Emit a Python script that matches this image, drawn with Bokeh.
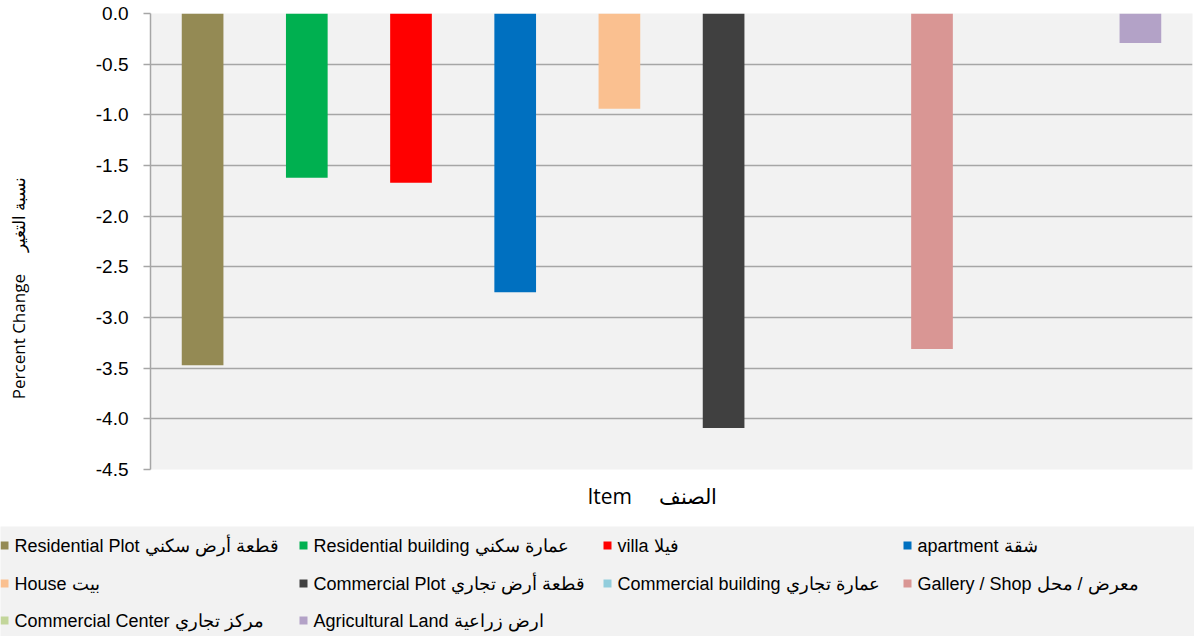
from bokeh.plotting import figure
from bokeh.models import ColumnDataSource, FixedTicker, NumeralTickFormatter, Range1d, FactorRange, Title
from bokeh.core.properties import value
from bokeh.embed import file_html
from bokeh.resources import INLINE

# ---------------- data ----------------
categories = ["Residential  Plot", "Residential  building", "villa", "apartment", "House",
              "Commercial  Plot", "Commercial  building", "Gallery  /  Shop",
              "Commercial  Center", "Agricultural  Land"]
categories_ar = ["قطعة أرض سكني", "عمارة سكني", "فيلا", "شقة", "بيت",
                 "قطعة أرض تجاري", "عمارة تجاري", "معرض / محل", "مركز تجاري", "ارض زراعية"]
pct_change = [-3.47, -1.62, -1.67, -2.75, -0.94, -4.09, 0.0, -3.31, 0.0, -0.29]
colors = ["#948a54", "#00b050", "#ff0000", "#0070c0", "#fac090",
          "#404040", "#92cddc", "#d99694", "#c3d69b", "#b3a2c7"]
y_ticks = [0.0, -0.5, -1.0, -1.5, -2.0, -2.5, -3.0, -3.5, -4.0, -4.5]

NB = "\u00a0"
y_label = "Percent Change" + NB * 5 + "نسبة التغير" + NB * 21
x_label = "Item" + NB * 5 + "الصنف" + NB * 7

# ---------------- main chart ----------------
W = 1194
p = figure(width=W, height=526,
           x_range=FactorRange(factors=categories),
           y_range=Range1d(-4.5, 0.0),
           output_backend="svg", toolbar_location=None,
           min_border_left=150, min_border_right=2, min_border_top=13, min_border_bottom=57)
p.background_fill_color = "#f2f2f2"
p.border_fill_color = "white"
p.outline_line_color = None

src = ColumnDataSource(dict(cat=categories, val=pct_change, color=colors))
p.vbar(x="cat", top=0.0, bottom="val", width=0.4, source=src,
       fill_color="color", line_color=None)

p.xaxis.visible = False
p.xgrid.grid_line_color = None
p.ygrid.grid_line_color = "#a6a6a6"
p.ygrid.grid_line_width = 1.5

ya = p.yaxis[0]
ya.ticker = FixedTicker(ticks=y_ticks)
ya.formatter = NumeralTickFormatter(format="0.0")
ya.axis_line_color = "#a6a6a6"
ya.axis_line_width = 1.5
ya.major_tick_line_color = "#a6a6a6"
ya.major_tick_line_width = 1.5
ya.major_tick_out = 7
ya.major_tick_in = 0
ya.minor_tick_line_color = None
ya.major_label_standoff = 15
ya.major_label_text_font = "Liberation Sans"
ya.major_label_text_font_size = "19px"
ya.major_label_text_color = "#000000"
ya.axis_label = y_label
ya.axis_label_text_font = "Open Sans"
ya.axis_label_text_font_size = "17px"
ya.axis_label_text_font_style = "normal"
ya.axis_label_text_color = "#000000"
ya.axis_label_standoff = 63

t = Title(text=x_label, align="center", text_font="Open Sans", text_font_size="21px",
          text_font_style="normal", text_color="#000000", standoff=21)
p.add_layout(t, "below")

# ---------------- legend band ----------------
LH = 110
lg = figure(width=W, height=LH, x_range=Range1d(0, W), y_range=Range1d(LH, 0),
            output_backend="svg", toolbar_location=None, min_border=0,
            x_axis_type=None, y_axis_type=None)
lg.background_fill_color = "#f2f2f2"
lg.border_fill_color = "#f2f2f2"
lg.outline_line_color = None
lg.xgrid.visible = False
lg.ygrid.visible = False

col_left = [0, 299, 603, 903]
row_y = [19, 57, 94]
sq_x, txt_x, ys, labels = [], [], [], []
for i, (en, ar) in enumerate(zip(categories, categories_ar)):
    c, r = i % 4, i // 4
    sq_x.append(col_left[c] + 4)
    txt_x.append(col_left[c] + 14)
    ys.append(row_y[r])
    labels.append(en + " " + ar)

lsrc = ColumnDataSource(dict(sx=sq_x, tx=txt_x, y=ys, label=labels, color=colors))
lg.scatter(x="sx", y="y", marker="square", size=8, fill_color="color", line_color=None, source=lsrc)
lg.text(x="tx", y="y", text="label", source=lsrc, text_baseline="middle", text_align="left",
        text_font=value("Liberation Sans"), text_font_size="18px", text_color="#000000")

open("out.html", "w").write(file_html([p, lg], INLINE))
